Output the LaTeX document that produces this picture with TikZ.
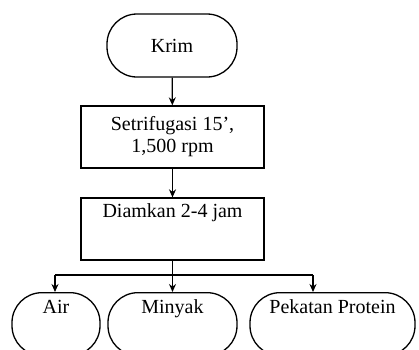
\documentclass[tikz,border=0pt]{standalone}
\usepackage{fontspec}
\setmainfont{Liberation Serif}
\usetikzlibrary{arrows.meta}

\begin{document}
\begin{tikzpicture}
			[x=1pt, y=-1pt, line width=1.3pt,
			 font=\fontsize{20}{22}\selectfont,
			 terminal/.style={rectangle, rounded corners=30pt, draw, inner sep=0pt, minimum width=130pt, minimum height=63pt},
			 output/.style={rectangle, rounded corners=30pt, draw, inner sep=0pt, text height=21pt, text depth=42pt},
			 process/.style={rectangle, draw, inner sep=0pt, minimum width=183pt, minimum height=62pt, align=center},
			 arr/.style={-{Stealth[length=8pt, width=7pt]}}]
			
			\useasboundingbox (0,0) rectangle (419,349);
			\clip (0,0) rectangle (419,349);
			
			\node[terminal] (krim) at (172,45.5) {Krim};
			\node[process] (setri) at (172.5,137) {Setrifugasi 15',\\1,500 rpm};
			\node[process, text height=19pt, text depth=43pt, minimum height=0pt] (diam) at (172.5,229) {Diamkan 2-4 jam};
			
			\node[output, anchor=north, minimum width=88pt] (air) at (56,292) {Air};
			\node[output, anchor=north, minimum width=129pt] (minyak) at (172.5,292) {Minyak};
			\node[output, anchor=north, minimum width=165pt] (prot) at (332.5,292) {Pekatan Protein};
			
			\coordinate (split) at (172.5,275);
			\coordinate (left) at (55,275);
			\coordinate (right) at (313,275);
			
			\draw[arr] (krim) -- (setri);
			\draw[arr] (setri) -- (diam);
			\draw (diam) -- (split);
			\draw (left) -- (right);
			\draw[arr] (left) -- (left |- air.north);
			\draw[arr] (split) -- (minyak);
			\draw[arr] (right) -- (right |- prot.north);
		\end{tikzpicture}
\end{document}
